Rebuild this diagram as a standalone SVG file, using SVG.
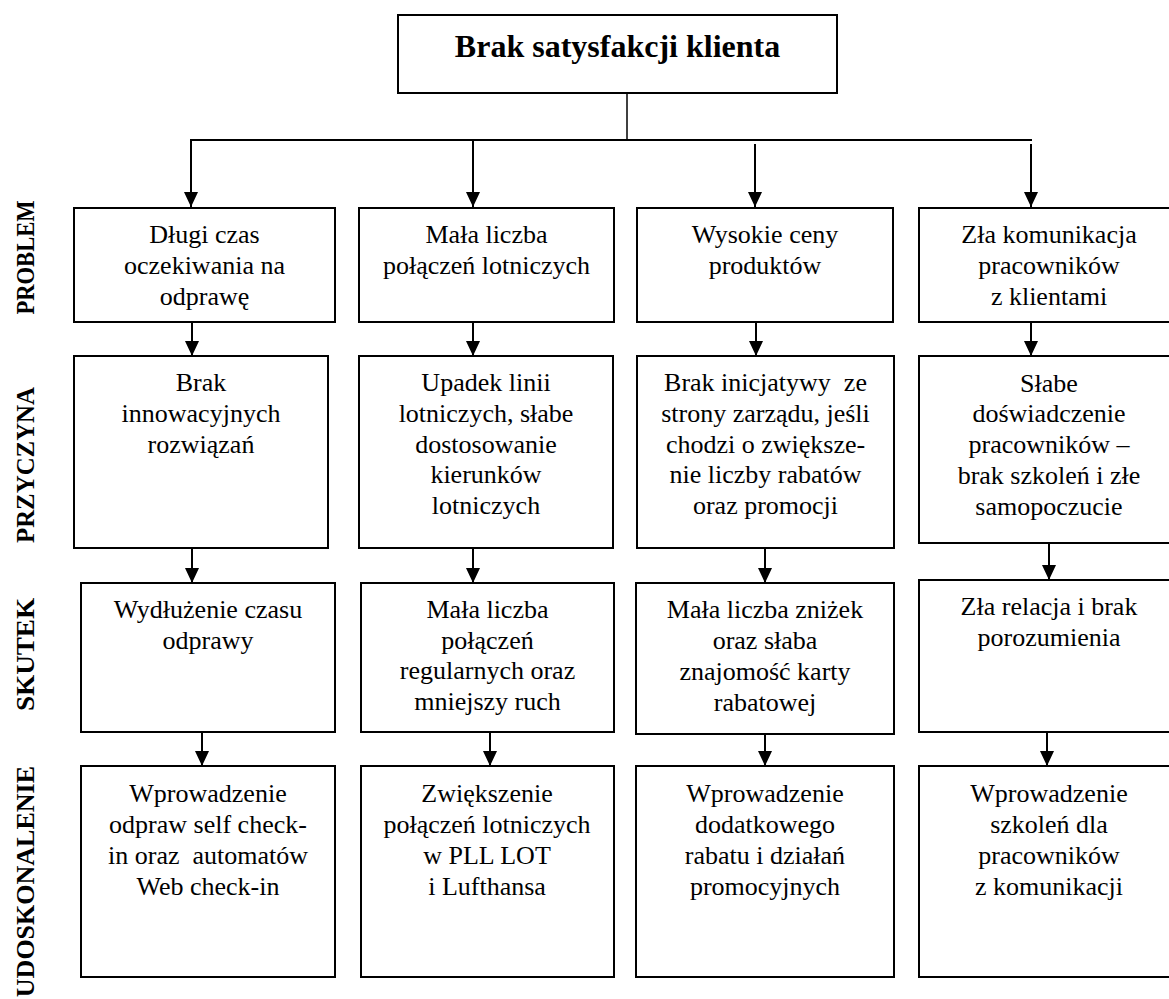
<svg xmlns="http://www.w3.org/2000/svg" width="1169" height="999" viewBox="0 0 1169 999">
<style>
.box{fill:#fff;stroke:#000;stroke-width:2}
.t{font-family:"Liberation Serif","Times New Roman",serif;font-size:26px;text-anchor:middle;fill:#000}
.title{font-family:"Liberation Serif","Times New Roman",serif;font-size:32px;font-weight:bold;text-anchor:middle;fill:#000}
.lab{font-family:"Liberation Serif","Times New Roman",serif;font-size:26px;font-weight:bold;fill:#000}
.c{stroke:#000;stroke-width:2;fill:none}
.pre{white-space:pre}
</style>
<defs>
<marker id="ah" markerUnits="userSpaceOnUse" markerWidth="15" markerHeight="14" refX="15" refY="7" orient="auto">
<path d="M0,0 L15,7 L0,14 z" fill="#000"/>
</marker>
</defs>

<g id="labels">
<text class="lab" transform="translate(34,257.5) rotate(-90)" text-anchor="middle" textLength="114" lengthAdjust="spacingAndGlyphs">PROBLEM</text>
<text class="lab" transform="translate(34,465) rotate(-90)" text-anchor="middle" textLength="156" lengthAdjust="spacingAndGlyphs">PRZYCZYNA</text>
<text class="lab" transform="translate(34,654.5) rotate(-90)" text-anchor="middle" textLength="113" lengthAdjust="spacingAndGlyphs">SKUTEK</text>
<text class="lab" transform="translate(34,766) rotate(-90)" text-anchor="end">UDOSKONALENIE</text>
</g>

<g id="connectors">
<line class="c" x1="627" y1="93" x2="627" y2="140" style="stroke-width:1.5"/>
<line class="c" x1="190" y1="140" x2="1032" y2="140"/>
<line class="c" x1="191" y1="140" x2="191" y2="207" marker-end="url(#ah)"/>
<line class="c" x1="473" y1="140" x2="473" y2="207" marker-end="url(#ah)"/>
<line class="c" x1="755" y1="144" x2="755" y2="207" marker-end="url(#ah)"/>
<line class="c" x1="1031" y1="144" x2="1031" y2="207" marker-end="url(#ah)"/>
<line class="c" x1="192" y1="322" x2="192" y2="356" marker-end="url(#ah)"/>
<line class="c" x1="473" y1="322" x2="473" y2="356" marker-end="url(#ah)"/>
<line class="c" x1="756" y1="322" x2="756" y2="356" marker-end="url(#ah)"/>
<line class="c" x1="1031" y1="322" x2="1031" y2="356" marker-end="url(#ah)"/>
<line class="c" x1="192" y1="548" x2="192" y2="583" marker-end="url(#ah)"/>
<line class="c" x1="473" y1="548" x2="473" y2="583" marker-end="url(#ah)"/>
<line class="c" x1="765" y1="548" x2="765" y2="583" marker-end="url(#ah)"/>
<line class="c" x1="1049" y1="543" x2="1049" y2="580" marker-end="url(#ah)"/>
<line class="c" x1="202" y1="732" x2="202" y2="766" marker-end="url(#ah)"/>
<line class="c" x1="490" y1="732" x2="490" y2="766" marker-end="url(#ah)"/>
<line class="c" x1="765" y1="734" x2="765" y2="766" marker-end="url(#ah)"/>
<line class="c" x1="1047" y1="732" x2="1047" y2="766" marker-end="url(#ah)"/>
</g>

<g id="root">
<rect class="box" x="398" y="15" width="439" height="78"/>
<text class="title" x="617.5" y="57">Brak satysfakcji klienta</text>
</g>

<g id="c1r1">
<rect class="box" x="74" y="208" width="261" height="114"/>
<text class="t" y="243"><tspan x="204.5">Długi czas</tspan><tspan x="204.5" dy="31">oczekiwania na</tspan><tspan x="204.5" dy="31">odprawę</tspan></text>
</g>
<g id="c2r1">
<rect class="box" x="359" y="208" width="255" height="114"/>
<text class="t" y="243"><tspan x="486.5">Mała liczba</tspan><tspan x="486.5" dy="31">połączeń lotniczych</tspan></text>
</g>
<g id="c3r1">
<rect class="box" x="637" y="208" width="256" height="114"/>
<text class="t" y="243"><tspan x="765">Wysokie ceny</tspan><tspan x="765" dy="31">produktów</tspan></text>
</g>
<g id="c4r1">
<rect class="box" x="919" y="208" width="260" height="114"/>
<text class="t" y="243"><tspan x="1049">Zła komunikacja</tspan><tspan x="1049" dy="31">pracowników</tspan><tspan x="1049" dy="31">z klientami</tspan></text>
</g>

<g id="c1r2">
<rect class="box" x="74" y="356" width="254" height="192"/>
<text class="t" y="391"><tspan x="201">Brak</tspan><tspan x="201" dy="31">innowacyjnych</tspan><tspan x="201" dy="31">rozwiązań</tspan></text>
</g>
<g id="c2r2">
<rect class="box" x="359" y="356" width="254" height="192"/>
<text class="t" y="391"><tspan x="486">Upadek linii</tspan><tspan x="486" dy="30.8">lotniczych, słabe</tspan><tspan x="486" dy="30.8">dostosowanie</tspan><tspan x="486" dy="30.8">kierunków</tspan><tspan x="486" dy="30.8">lotniczych</tspan></text>
</g>
<g id="c3r2">
<rect class="box" x="637" y="356" width="257" height="192"/>
<text class="t pre" y="391"><tspan x="765.5">Brak inicjatywy  ze</tspan><tspan x="765.5" dy="30.8">strony zarządu, jeśli</tspan><tspan x="765.5" dy="30.8">chodzi o zwiększe-</tspan><tspan x="765.5" dy="30.8">nie liczby rabatów</tspan><tspan x="765.5" dy="30.8">oraz promocji</tspan></text>
</g>
<g id="c4r2">
<rect class="box" x="919" y="356" width="260" height="187"/>
<text class="t" y="391.5"><tspan x="1049">Słabe</tspan><tspan x="1049" dy="30.8">doświadczenie</tspan><tspan x="1049" dy="30.8">pracowników –</tspan><tspan x="1049" dy="30.8">brak szkoleń i złe</tspan><tspan x="1049" dy="30.8">samopoczucie</tspan></text>
</g>

<g id="c1r3">
<rect class="box" x="81" y="583" width="254" height="149"/>
<text class="t" y="618"><tspan x="208">Wydłużenie czasu</tspan><tspan x="208" dy="31">odprawy</tspan></text>
</g>
<g id="c2r3">
<rect class="box" x="361" y="583" width="253" height="149"/>
<text class="t" y="618"><tspan x="487.5">Mała liczba</tspan><tspan x="487.5" dy="30.5">połączeń</tspan><tspan x="487.5" dy="30.5">regularnych oraz</tspan><tspan x="487.5" dy="30.5">mniejszy ruch</tspan></text>
</g>
<g id="c3r3">
<rect class="box" x="636" y="583" width="258" height="151"/>
<text class="t" y="617.5"><tspan x="765">Mała liczba zniżek</tspan><tspan x="765" dy="31">oraz słaba</tspan><tspan x="765" dy="31">znajomość karty</tspan><tspan x="765" dy="31">rabatowej</tspan></text>
</g>
<g id="c4r3">
<rect class="box" x="919" y="580" width="260" height="152"/>
<text class="t" y="615"><tspan x="1049">Zła relacja i brak</tspan><tspan x="1049" dy="30.5">porozumienia</tspan></text>
</g>

<g id="c1r4">
<rect class="box" x="81" y="766" width="254" height="211"/>
<text class="t pre" y="801.5"><tspan x="208">Wprowadzenie</tspan><tspan x="208" dy="31">odpraw self check-</tspan><tspan x="208" dy="31">in oraz  automatów</tspan><tspan x="208" dy="31">Web check-in</tspan></text>
</g>
<g id="c2r4">
<rect class="box" x="361" y="766" width="253" height="211"/>
<text class="t" y="801.5"><tspan x="487">Zwiększenie</tspan><tspan x="487" dy="31">połączeń lotniczych</tspan><tspan x="487" dy="31">w PLL LOT</tspan><tspan x="487" dy="31">i Lufthansa</tspan></text>
</g>
<g id="c3r4">
<rect class="box" x="636" y="766" width="258" height="211"/>
<text class="t" y="801.5"><tspan x="765">Wprowadzenie</tspan><tspan x="765" dy="31">dodatkowego</tspan><tspan x="765" dy="31">rabatu i działań</tspan><tspan x="765" dy="31">promocyjnych</tspan></text>
</g>
<g id="c4r4">
<rect class="box" x="919" y="766" width="260" height="211"/>
<text class="t" y="801.5"><tspan x="1049">Wprowadzenie</tspan><tspan x="1049" dy="31">szkoleń dla</tspan><tspan x="1049" dy="31">pracowników</tspan><tspan x="1049" dy="31">z komunikacji</tspan></text>
</g>
</svg>
